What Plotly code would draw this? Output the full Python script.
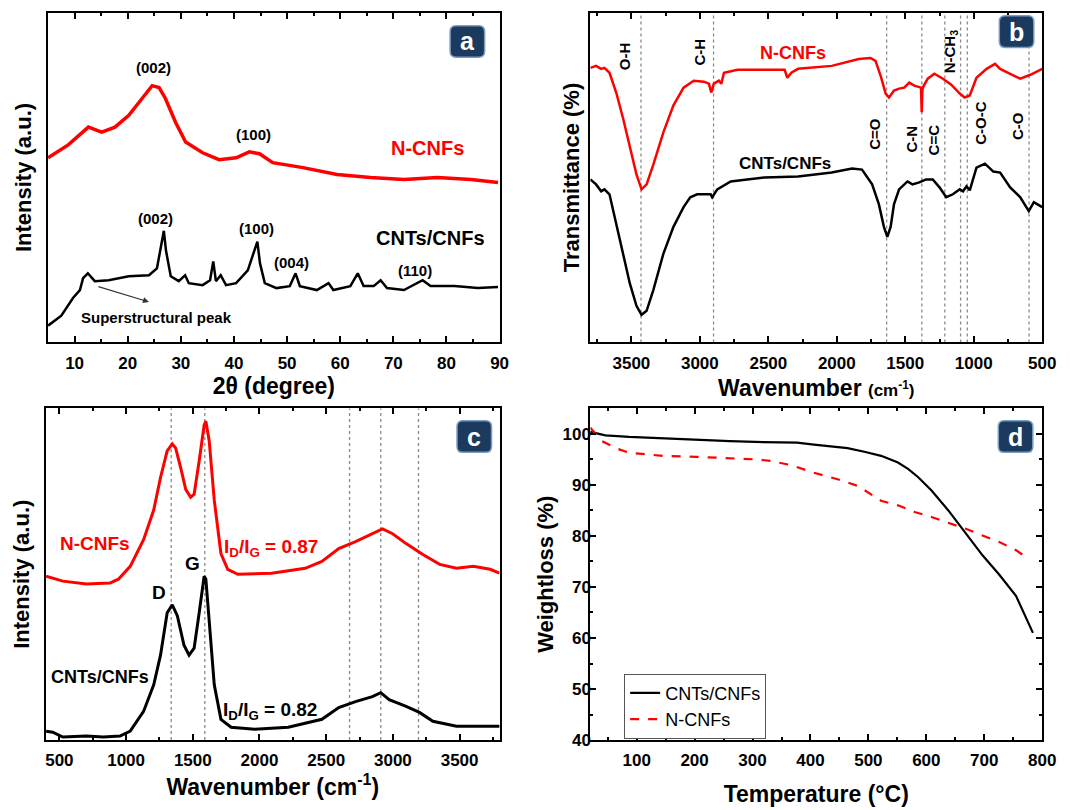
import plotly.graph_objects as go

# ---------------- Panel a: XRD ----------------
xrd_n_2theta = [5.0, 8.8, 12.6, 15.1, 17.6, 20.2, 22.7, 24.6, 25.9, 27.1, 29.0, 30.9, 34.1, 37.2,
                40.4, 42.9, 44.8, 47.3, 53.0, 59.4, 65.7, 72.0, 78.3, 84.6, 89.7]
xrd_n_int = [187, 200, 218, 213, 218, 230, 247, 260, 258, 247, 223, 203, 192, 185,
             187, 193, 191, 182, 177, 170, 167, 165, 167, 165, 162]

xrd_c_2theta = [5.0, 7.5, 9.7, 11.0, 11.6, 12.5, 13.8, 16.4, 20.2, 24.0, 25.5, 26.4, 26.8, 27.2,
                28.1, 29.6, 30.8, 31.5, 34.1, 35.5, 36.1, 36.6, 37.5, 38.5, 40.4, 42.6, 43.9,
                44.4, 44.9, 45.8, 48.0, 50.5, 51.6, 52.4, 55.6, 57.8, 58.7, 61.9, 63.3, 64.4,
                66.3, 67.6, 68.8, 72.0, 75.5, 77.0, 81.5, 85.9, 89.7]
xrd_c_int = [17, 27, 45, 53, 65, 70, 62, 63, 67, 68, 75, 100, 113, 93,
             67, 62, 68, 60, 58, 63, 82, 62, 68, 58, 60, 73, 93,
             102, 80, 60, 55, 57, 70, 57, 53, 60, 53, 57, 70, 57,
             57, 63, 55, 53, 63, 57, 57, 55, 56]

# ---------------- Panel b: FTIR ----------------
ftir_n_wn = [3800, 3758, 3721, 3697, 3660, 3611, 3561, 3512, 3463, 3426, 3389, 3340, 3266, 3193,
             3119, 3045, 2971, 2934, 2917, 2898, 2861, 2843, 2824, 2725, 2529, 2381, 2361, 2332,
             2283, 2037, 1840, 1754, 1717, 1680, 1643, 1619, 1582, 1545, 1508, 1471, 1434, 1398,
             1385, 1380, 1375, 1368, 1336, 1287, 1225, 1164, 1102, 1066, 1029, 980, 906, 844,
             807, 734, 660, 586, 500]
ftir_n_t = [278, 280, 277, 278, 273, 253, 227, 197, 170, 155, 160, 180, 213, 240,
            258, 265, 264, 262, 253, 262, 265, 262, 273, 276, 276, 276, 268, 273,
            277, 280, 287, 288, 285, 270, 252, 248, 255, 257, 258, 263, 260, 259,
            258, 233, 256, 259, 267, 272, 267, 261, 252, 248, 250, 268, 277, 282,
            277, 272, 267, 271, 277]

ftir_c_wn = [3800, 3758, 3721, 3697, 3660, 3611, 3561, 3512, 3463, 3426, 3389, 3340, 3266, 3193,
             3119, 3070, 3020, 2922, 2910, 2873, 2775, 2529, 2283, 2037, 1889, 1816, 1742, 1693,
             1656, 1631, 1607, 1582, 1545, 1484, 1447, 1398, 1348, 1299, 1250, 1201, 1152, 1102,
             1078, 1053, 1029, 980, 918, 857, 807, 734, 660, 598, 561, 537, 500]
ftir_c_t = [165, 160, 153, 155, 150, 120, 90, 60, 37, 28, 32, 53, 90, 117,
            137, 147, 150, 150, 147, 155, 163, 167, 168, 172, 176, 175, 160, 140,
            117, 107, 117, 140, 155, 163, 160, 162, 165, 165, 157, 147, 150, 155,
            153, 158, 154, 177, 181, 173, 172, 157, 147, 133, 142, 140, 137]

ftir_lines = [3430, 2900, 1636, 1379, 1211, 1096, 1047, 596]

# ---------------- Panel c: Raman ----------------
raman_n_wn = [400, 526, 703, 879, 942, 1031, 1131, 1207, 1258, 1308, 1346, 1371, 1409, 1447,
              1484, 1510, 1548, 1585, 1598, 1623, 1661, 1711, 1762, 1838, 2090, 2342, 2468,
              2594, 2720, 2846, 2922, 2998, 3099, 3225, 3351, 3477, 3603, 3729, 3800]
raman_n_int = [166, 161, 158, 159, 163, 176, 203, 233, 266, 293, 300, 296, 276, 254,
               246, 249, 283, 319, 323, 303, 243, 189, 173, 168, 169, 174, 181,
               194, 201, 209, 214, 209, 199, 188, 178, 174, 176, 173, 169]

raman_c_wn = [400, 450, 526, 703, 829, 955, 1031, 1131, 1207, 1258, 1308, 1346, 1384, 1434,
              1472, 1510, 1548, 1585, 1598, 1623, 1661, 1711, 1787, 1964, 2216, 2468, 2594,
              2720, 2846, 2909, 2972, 3099, 3199, 3300, 3477, 3653, 3800]
raman_c_int = [9, 8, 3, 4, 3, 4, 9, 29, 56, 86, 129, 137, 126, 96,
               86, 93, 129, 166, 163, 123, 56, 21, 13, 11, 13, 21, 33,
               39, 44, 48, 41, 34, 28, 19, 14, 14, 14]

raman_lines = [1338, 1590, 2675, 2909, 3192]

# ---------------- Panel d: TGA ----------------
tga_c_temp = [20, 46, 87, 145, 203, 261, 319, 377, 406, 435, 464, 493, 522, 551, 569, 586,
              609, 638, 668, 697, 726, 755, 784]
tga_c_w = [100.4, 99.7, 99.4, 99.1, 98.8, 98.6, 98.4, 98.3, 97.9, 97.6, 97.2, 96.5, 95.7, 94.4,
           93.1, 91.5, 88.9, 85.0, 80.5, 76.2, 72.4, 68.2, 61.0]
tga_n_temp = [20, 40, 64, 87, 116, 145, 203, 261, 307, 331, 366, 406, 447, 482, 505, 522, 551,
              580, 609, 644, 668, 697, 726, 755, 778]
tga_n_w = [101.2, 98.6, 97.2, 96.3, 96.0, 95.7, 95.5, 95.2, 95.0, 94.7, 93.9, 92.4, 91.1, 89.8,
           88.2, 86.9, 86.0, 84.7, 83.7, 82.4, 81.4, 80.1, 78.8, 77.2, 75.4]

# ---------------- Figure ----------------
FONT = "Arial, Liberation Sans, sans-serif"
W, H = 1070, 810
RED = "#ff0000"

fig = go.Figure()

def line_trace(x, y, ax, color, width, name=None, dash=None, legend=False):
    fig.add_trace(go.Scatter(x=x, y=y, xaxis="x" + ax, yaxis="y" + ax, mode="lines",
                             line=dict(color=color, width=width, dash=dash),
                             name=name, showlegend=legend, hoverinfo="skip"))

line_trace(xrd_n_2theta, xrd_n_int, "", RED, 3.5)
line_trace(xrd_c_2theta, xrd_c_int, "", "black", 2.5)
line_trace(ftir_n_wn, ftir_n_t, "2", RED, 2.5)
line_trace(ftir_c_wn, ftir_c_t, "2", "black", 2.5)
line_trace(raman_n_wn, raman_n_int, "3", RED, 3)
line_trace(raman_c_wn, raman_c_int, "3", "black", 3)
line_trace(tga_c_temp, tga_c_w, "4", "black", 2.2, name="CNTs/CNFs", legend=True)
line_trace(tga_n_temp, tga_n_w, "4", RED, 2.2, name="N-CNFs", dash="dash", legend=True)

def xd(p0, p1):
    return [p0 / W, p1 / W]

def yd(top, bottom):
    return [1 - bottom / H, 1 - top / H]

TICKFONT = dict(family=FONT, size=17, color="black", weight="bold")
XTITLEFONT = dict(family=FONT, size=23, color="black", weight="bold")
YTITLEFONT = dict(family=FONT, size=22, color="black", weight="bold")

def xaxis(domain, rng, dtick, mdtick, anchor, title, standoff, tick0=0):
    return dict(domain=domain, range=rng, anchor=anchor, showgrid=False, zeroline=False,
                showline=True, linecolor="black", linewidth=2, mirror="ticks",
                ticks="inside", ticklen=6, tickwidth=2, tickcolor="black",
                dtick=dtick, tick0=tick0, tickfont=TICKFONT, ticklabelstandoff=4,
                minor=dict(ticks="inside", ticklen=3, tickwidth=1.5, tickcolor="black",
                           dtick=mdtick, tick0=tick0, showgrid=False),
                title=dict(text=title, font=XTITLEFONT, standoff=standoff))

def yaxis_plain(domain, rng, anchor, title, standoff):
    return dict(domain=domain, range=rng, anchor=anchor, showgrid=False, zeroline=False,
                showline=True, linecolor="black", linewidth=2, mirror=True,
                ticks="", showticklabels=False,
                title=dict(text=title, font=YTITLEFONT, standoff=standoff))

top_row = yd(12.7, 346.7)
bot_row = yd(413.5, 749.3)
left_col = xd(47.7, 505.7)
right_col = xd(597.7, 1056)
left_col_c = xd(45.7, 505.7)

fig.update_layout(
    width=W, height=H, margin=dict(l=0, r=0, t=0, b=0),
    paper_bgcolor="white", plot_bgcolor="white",
    font=dict(family=FONT, color="black"),
    xaxis=xaxis(left_col, [5, 90], 10, 5, "y", "2θ (degree)", 6),
    yaxis=yaxis_plain(top_row, [0, 334], "x", "Intensity (a.u.)", 8),
    xaxis2=xaxis(right_col, [3800, 500], 500, 250, "y2",
                 "Wavenumber <span style='font-size:17px'>(cm<sup>-1</sup>)</span>", 8),
    yaxis2=yaxis_plain(top_row, [0, 334], "x2", "Transmittance (%)", 3),
    xaxis3=xaxis(left_col_c, [400, 3800], 500, 250, "y3", "Wavenumber (cm<sup>-1</sup>)", 2),
    yaxis3=yaxis_plain(bot_row, [0, 336], "x3", "Intensity (a.u.)", 8),
    xaxis4=xaxis(right_col, [20, 800], 100, 50, "y4", "Temperature (°C)", 16),
    yaxis4=dict(domain=bot_row, range=[40, 105], anchor="x4", showgrid=False, zeroline=False,
                showline=True, linecolor="black", linewidth=2, mirror="ticks",
                ticks="inside", ticklen=6, tickwidth=2, tickcolor="black", dtick=10, tick0=0,
                tickfont=TICKFONT, ticklabelstandoff=-6,
                minor=dict(ticks="inside", ticklen=3, tickwidth=1.5, tickcolor="black", dtick=5,
                           showgrid=False),
                title=dict(text="Weightloss (%)", font=YTITLEFONT, standoff=3)),
    legend=dict(x=632 / W, y=1 - 682 / H, xanchor="left", yanchor="top",
                bgcolor="white", bordercolor="#555555", borderwidth=1,
                font=dict(family=FONT, size=18, color="black"), tracegroupgap=0),
)

shapes = []
for v in ftir_lines:
    shapes.append(dict(type="line", xref="x2", yref="y2 domain", x0=v, x1=v, y0=0, y1=1,
                       layer="below", line=dict(color="#8a8a8a", width=1.3, dash="dot")))
for v in raman_lines:
    shapes.append(dict(type="line", xref="x3", yref="y3 domain", x0=v, x1=v, y0=0, y1=1,
                       layer="below", line=dict(color="#8a8a8a", width=1.3, dash="dot")))

def rbox(cx, cy, w, h, r):
    x0, x1 = (cx - w / 2) / W, (cx + w / 2) / W
    y0, y1 = 1 - (cy + h / 2) / H, 1 - (cy - h / 2) / H
    rx, ry = r / W, r / H
    p = (f"M{x0+rx},{y0} L{x1-rx},{y0} Q{x1},{y0} {x1},{y0+ry} L{x1},{y1-ry} "
         f"Q{x1},{y1} {x1-rx},{y1} L{x0+rx},{y1} Q{x0},{y1} {x0},{y1-ry} "
         f"L{x0},{y0+ry} Q{x0},{y0} {x0+rx},{y0} Z")
    return dict(type="path", path=p, xref="paper", yref="paper",
                fillcolor="#1b3a5e", line=dict(color="#7d9cc2", width=1.5), layer="above")

boxes = [("a", 473, 42), ("b", 1030, 32), ("c", 480, 442), ("d", 1029, 442)]
annotations = []
for letter, cx, cy in boxes:
    shapes.append(rbox(cx, cy, 35, 32, 6))
    annotations.append(dict(x=cx / W, y=1 - cy / H, xref="paper", yref="paper", text=letter,
                            showarrow=False, xanchor="center", yanchor="middle",
                            font=dict(family=FONT, size=25, color="white", weight="bold")))

def note(x, y, text, ax, size, color="black", angle=0):
    annotations.append(dict(x=x, y=y, xref="x" + ax, yref="y" + ax, text=text, showarrow=False,
                            xanchor="center", yanchor="middle", textangle=angle,
                            font=dict(family=FONT, size=size, color=color, weight="bold")))

# panel a labels
note(24.9, 278, "(002)", "", 15)
note(43.7, 211, "(100)", "", 15)
note(76.5, 197, "N-CNFs", "", 20, RED)
note(25.3, 125, "(002)", "", 15)
note(44.3, 115, "(100)", "", 15)
note(50.8, 81, "(004)", "", 15)
note(74.0, 73, "(110)", "", 15)
note(76.9, 106, "CNTs/CNFs", "", 20)
note(25.5, 25, "Superstructural peak", "", 15)
annotations.append(dict(x=24.0, y=41, ax=14.2, ay=57, xref="x", yref="y", axref="x", ayref="y",
                        showarrow=True, arrowhead=2, arrowsize=1, arrowwidth=1.2,
                        arrowcolor="#333333", text=""))

# panel b labels
note(3552, 290, "O-H", "2", 15, angle=-90)
note(3003, 294, "C-H", "2", 15, angle=-90)
note(2320, 293, "N-CNFs", "2", 18, RED)
note(1171, 295, "N-CH<sub>3</sub>", "2", 15, angle=-90)
note(1730, 211, "C=O", "2", 15, angle=-90)
note(1454, 206, "C-N", "2", 15, angle=-90)
note(1294, 205, "C=C", "2", 15, angle=-90)
note(950, 222, "C-O-C", "2", 15, angle=-90)
note(684, 219, "C-O", "2", 15, angle=-90)
note(2376, 181, "CNTs/CNFs", "2", 17)

# panel c labels
note(766, 199, "N-CNFs", "3", 19, RED)
note(2090, 195, "I<sub>D</sub>/I<sub>G</sub> = 0.87", "3", 19, RED)
note(1497, 179, "G", "3", 19)
note(1247, 149, "D", "3", 19)
note(803, 64, "CNTs/CNFs", "3", 18)
note(2077, 29, "I<sub>D</sub>/I<sub>G</sub> = 0.82", "3", 19)

fig.update_layout(shapes=shapes, annotations=annotations)

fig.write_html("out.html")
